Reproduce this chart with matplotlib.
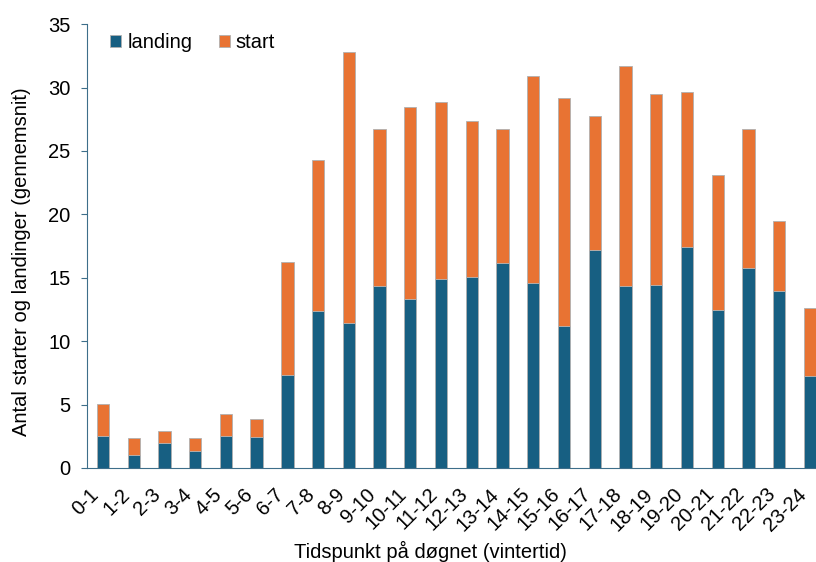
import numpy as np
import matplotlib
matplotlib.use("Agg")
import matplotlib.pyplot as plt

plt.rcParams['font.family'] = ['Liberation Sans', 'DejaVu Sans']

# Time slots (winter time)
hours = ["0-1", "1-2", "2-3", "3-4", "4-5", "5-6", "6-7", "7-8", "8-9", "9-10",
         "10-11", "11-12", "12-13", "13-14", "14-15", "15-16", "16-17", "17-18",
         "18-19", "19-20", "20-21", "21-22", "22-23", "23-24"]

# average landings per hour
landing = [2.5, 1.05, 1.95, 1.35, 2.5, 2.45, 7.35, 12.4, 11.45, 14.35,
           13.3, 14.9, 15.1, 16.15, 14.6, 11.2, 17.2, 14.35,
           14.4, 17.4, 12.45, 15.75, 13.95, 7.25]

total = [5.05, 2.4, 2.95, 2.4, 4.25, 3.9, 16.25, 24.3, 32.8, 26.7,
         28.5, 28.9, 27.4, 26.7, 30.9, 29.2, 27.75, 31.7,
         29.5, 29.65, 23.1, 26.7, 19.5, 12.6]

start = [t - l for t, l in zip(total, landing)]

fig = plt.figure(figsize=(8.16, 5.62), dpi=100)
ax = fig.add_axes([0.1066, 0.1673, 0.8934, 0.7897])

x = np.arange(len(hours))
ax.bar(x, landing, width=0.4, color='#175f82', edgecolor='#b0b0b0', linewidth=0.6, label='landing')
ax.bar(x, start, width=0.4, bottom=landing, color='#e87333', edgecolor='#b0b0b0', linewidth=0.6, label='start')

ax.set_xlim(-0.52, 23.2)
ax.set_ylim(0, 35)
ax.set_yticks(range(0, 36, 5))
ax.set_xticks(x)
ax.set_xticklabels(hours, rotation=45, ha='right', fontsize=14.5)
ax.tick_params(axis='y', labelsize=14.5, color='#3d6e8a', length=4, pad=8)
ax.tick_params(axis='x', length=0, pad=12)

for s in ['top', 'right']:
    ax.spines[s].set_visible(False)
ax.spines['left'].set_color('#3d6e8a')
ax.spines['bottom'].set_color('#3d6e8a')

ax.set_ylabel("Antal starter og landinger (gennemsnit)", fontsize=14.5)
ax.yaxis.set_label_coords(-0.077, 0.464)
fig.text(0.527, 0.0, "Tidspunkt på døgnet (vintertid)", fontsize=14.5, ha='center', va='bottom')

ax.legend(loc='upper left', bbox_to_anchor=(0.007, 1.02), ncol=2, frameon=False, fontsize=14.5,
          handlelength=0.55, handleheight=0.55, handletextpad=0.3, columnspacing=1.3)

plt.savefig("out.png", dpi=100)
